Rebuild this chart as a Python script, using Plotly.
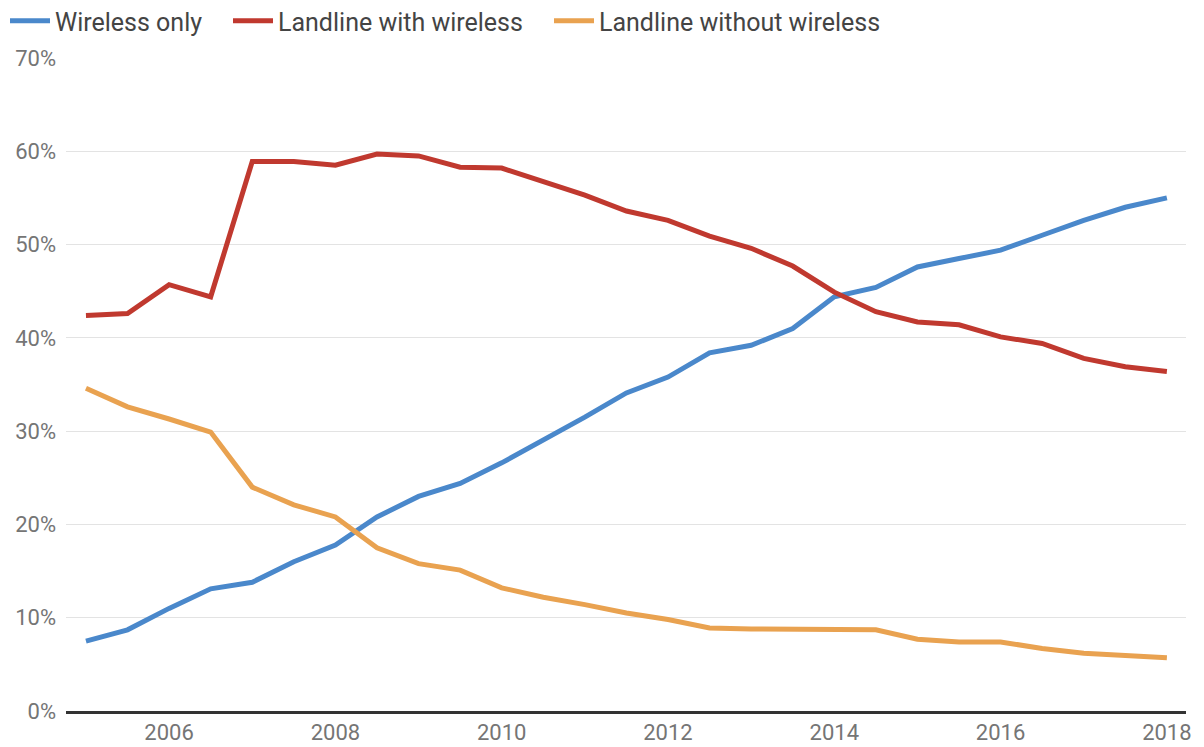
import plotly.graph_objects as go

years = [2005 + 0.5 * i for i in range(27)]

wireless_only = [7.5, 8.7, 11.0, 13.1, 13.8, 16.0, 17.8, 20.8, 23.0, 24.4, 26.6, 29.0, 31.5, 34.1,
                 35.8, 38.4, 39.2, 41.0, 44.4, 45.4, 47.6, 48.5, 49.4, 51.0, 52.6, 54.0, 55.0]
landline_with = [42.4, 42.6, 45.7, 44.4, 58.9, 58.9, 58.5, 59.7, 59.5, 58.3, 58.2, 56.8, 55.3, 53.6,
                 52.6, 50.9, 49.6, 47.7, 44.9, 42.8, 41.7, 41.4, 40.1, 39.4, 37.8, 36.9, 36.4]
landline_without = [34.6, 32.6, 31.3, 29.9, 24.0, 22.1, 20.8, 17.5, 15.8, 15.1, 13.2, 12.2, 11.4, 10.5,
                    9.8, 8.9, 8.8, 8.8, 8.8, 8.7, 7.7, 7.4, 7.4, 6.7, 6.2, 6.0, 5.7]

series_names = ["Wireless only", "Landline with wireless", "Landline without wireless"]
series_colors = ["#4A88CB", "#C0392F", "#E9A250"]
series_values = [wireless_only, landline_with, landline_without]

x_ticks = [2006, 2008, 2010, 2012, 2014, 2016, 2018]
y_ticks = [0, 10, 20, 30, 40, 50, 60, 70]
y_tick_labels = [f"{v}%" for v in y_ticks]

W, H = 1204, 747
legend_ids = ["legend", "legend2", "legend3"]
legend_left_px = [5, 228, 549]

fig = go.Figure()
for name, color, vals, lid in zip(series_names, series_colors, series_values, legend_ids):
    fig.add_trace(go.Scatter(x=years, y=vals, mode="lines", name=name, legend=lid,
                             line=dict(color=color, width=5)))

legend_common = dict(orientation="h", xref="container", yref="container", xanchor="left",
                     yanchor="middle", y=1 - 21 / H, font=dict(size=25, color="#444444"),
                     itemwidth=40, bgcolor="rgba(0,0,0,0)", borderwidth=0)
layout_legends = {}
for lid, px in zip(legend_ids, legend_left_px):
    layout_legends[lid] = dict(legend_common, x=px / W)

fig.update_layout(
    width=W, height=H,
    margin=dict(l=66, r=18, t=58, b=36, autoexpand=False),
    paper_bgcolor="white", plot_bgcolor="white",
    font=dict(family="Roboto", size=22, color="#757575"),
    showlegend=True,
    xaxis=dict(range=[2004.76, 2018.23], tickvals=x_ticks, ticktext=[str(v) for v in x_ticks],
               showgrid=False, zeroline=False, showline=True, linecolor="#333333", linewidth=3,
               ticks="", ticklabelstandoff=0, automargin=False),
    yaxis=dict(range=[0, 70], tickvals=y_ticks, ticktext=y_tick_labels,
               showgrid=True, gridcolor="#E3E3E3", gridwidth=1, zeroline=False,
               ticks="", ticklabelstandoff=9, automargin=False),
    **layout_legends,
)

fig.write_html("out.html", config={"displayModeBar": False},
               post_script="document.body.style.margin='0';")
